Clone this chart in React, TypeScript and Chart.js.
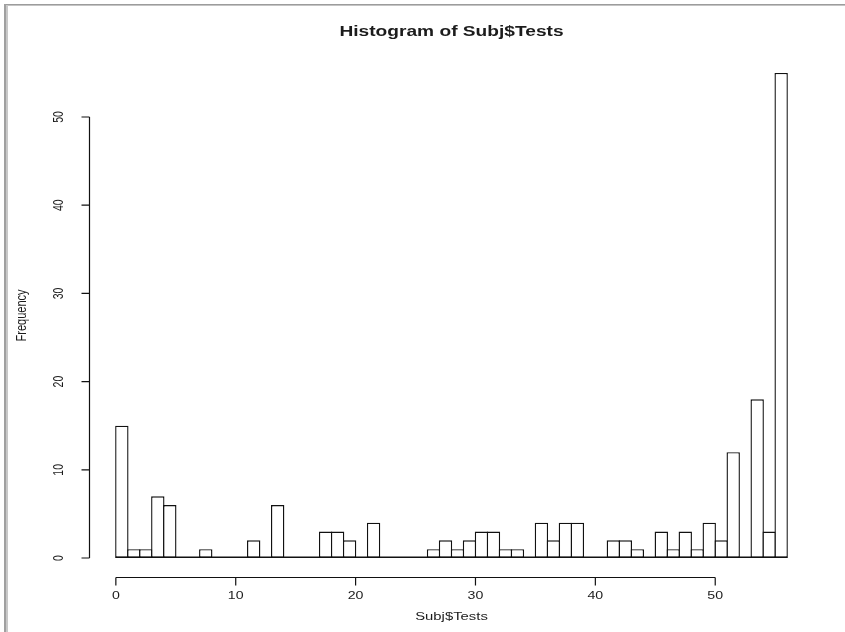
import React, { useEffect, useRef } from "react";
import { Chart, registerables } from "chart.js";

Chart.register(...registerables);

// Histogram bin edges (unit-width bins) and the count in each bin
const breaks = [
  0, 1, 2, 3, 4, 5, 6, 7, 8, 9, 10, 11, 12, 13, 14, 15, 16, 17, 18, 19, 20,
  21, 22, 23, 24, 25, 26, 27, 28, 29, 30, 31, 32, 33, 34, 35, 36, 37, 38, 39,
  40, 41, 42, 43, 44, 45, 46, 47, 48, 49, 50, 51, 52, 53, 54, 55, 56,
];
const counts = [
  15, 1, 1, 7, 6, 0, 0, 1, 0, 0, 0, 2, 0, 6, 0, 0, 0, 3, 3, 2, 0, 4, 0, 0, 0,
  0, 1, 2, 1, 2, 3, 3, 1, 1, 0, 4, 2, 4, 4, 0, 0, 2, 2, 1, 0, 3, 1, 3, 1, 4,
  2, 12, 0, 18, 3, 55,
];
const xTicks = [0, 10, 20, 30, 40, 50];
const yTicks = [0, 10, 20, 30, 40, 50];

const mainTitle = "Histogram of Subj$Tests";
const xLabel = "Subj$Tests";
const yLabel = "Frequency";

const W = 845;
const H = 632;
const FONT = '"Liberation Sans", Arial, sans-serif';
const TEXT_COLOR = "#1c1c1c";
const LINE_COLOR = "#111111";
const SX = 1.35; // horizontal widening of the lettering
const BAR_LINE = 1.4;

function drawText(
  ctx: CanvasRenderingContext2D,
  text: string,
  x: number,
  y: number,
  font: string,
  vertical = false
) {
  ctx.save();
  ctx.translate(x, y);
  ctx.scale(SX, 1);
  if (vertical) ctx.rotate(-Math.PI / 2);
  ctx.font = font;
  ctx.fillStyle = TEXT_COLOR;
  ctx.textAlign = "center";
  ctx.textBaseline = "middle";
  ctx.fillText(text, 0, 0);
  ctx.restore();
}

const frameAndAxes = {
  id: "frameAndAxes",
  beforeDraw(chart: any) {
    const { ctx, width, height } = chart;
    ctx.save();
    ctx.fillStyle = "#ffffff";
    ctx.fillRect(0, 0, width, height);
    // window frame along the top and left edges
    ctx.fillStyle = "#9c9c9c";
    ctx.fillRect(4, 4, width - 4, 1);
    ctx.fillStyle = "#c4c4c4";
    ctx.fillRect(5, 5, width - 5, 1);
    ctx.fillStyle = "#a0a0a0";
    ctx.fillRect(4, 4, 2, height - 4);
    ctx.fillStyle = "#c8c8c8";
    ctx.fillRect(6, 5, 2, height - 5);
    ctx.restore();
  },
  afterDatasetsDraw(chart: any) {
    const { ctx, chartArea } = chart;
    const xs = chart.scales.x;
    const ys = chart.scales.y;
    ctx.save();
    ctx.strokeStyle = LINE_COLOR;
    ctx.lineWidth = BAR_LINE;

    // baseline under every bin, including the empty ones
    const base = ys.getPixelForValue(0) - BAR_LINE / 2;
    ctx.beginPath();
    ctx.moveTo(xs.getPixelForValue(breaks[0]), base);
    ctx.lineTo(xs.getPixelForValue(breaks[breaks.length - 1]), base);
    ctx.stroke();

    ctx.lineWidth = 1.2;
    const tick = 8;

    // x axis
    const ay = Math.round(chartArea.bottom) + 0.5;
    ctx.beginPath();
    ctx.moveTo(xs.getPixelForValue(xTicks[0]), ay);
    ctx.lineTo(xs.getPixelForValue(xTicks[xTicks.length - 1]), ay);
    for (const t of xTicks) {
      const px = xs.getPixelForValue(t);
      ctx.moveTo(px, ay);
      ctx.lineTo(px, ay + tick);
    }
    ctx.stroke();

    // y axis
    const ax = Math.round(chartArea.left) + 0.5;
    ctx.beginPath();
    ctx.moveTo(ax, ys.getPixelForValue(yTicks[0]));
    ctx.lineTo(ax, ys.getPixelForValue(yTicks[yTicks.length - 1]));
    for (const t of yTicks) {
      const py = ys.getPixelForValue(t);
      ctx.moveTo(ax, py);
      ctx.lineTo(ax - tick, py);
    }
    ctx.stroke();
    ctx.restore();

    const tickFont = `10.5px ${FONT}`;
    for (const t of xTicks) {
      drawText(ctx, String(t), xs.getPixelForValue(t), ay + 19, tickFont);
    }
    for (const t of yTicks) {
      drawText(ctx, String(t), ax - 30, ys.getPixelForValue(t), tickFont, true);
    }

    const cx = (chartArea.left + chartArea.right) / 2;
    const cy = (chartArea.top + chartArea.bottom) / 2;
    drawText(ctx, mainTitle, cx, 32, `bold 14.2px ${FONT}`);
    drawText(ctx, xLabel, cx, ay + 39, `11px ${FONT}`);
    drawText(ctx, yLabel, 22, cy, `11px ${FONT}`, true);
  },
};

export default function App() {
  const canvasRef = useRef<HTMLCanvasElement | null>(null);

  useEffect(() => {
    const canvas = canvasRef.current;
    if (!canvas) return;
    const points = counts.map((c, i) => ({
      x: (breaks[i] + breaks[i + 1]) / 2,
      y: c,
    }));
    const chart = new Chart(canvas, {
      type: "bar",
      data: {
        datasets: [
          {
            data: points,
            backgroundColor: "#ffffff",
            borderColor: LINE_COLOR,
            borderWidth: BAR_LINE,
            borderSkipped: false,
            barPercentage: 1 + BAR_LINE / 12,
            categoryPercentage: 1,
          },
        ],
      },
      options: {
        responsive: false,
        animation: false,
        devicePixelRatio: 1,
        layout: { padding: { left: 89, right: 31, top: 53.5, bottom: 54.6 } },
        plugins: {
          legend: { display: false },
          tooltip: { enabled: false },
          title: { display: false },
        },
        scales: {
          x: {
            type: "linear",
            min: -2.24,
            max: 58.24,
            offset: false,
            display: false,
          },
          y: { type: "linear", min: -2.2, max: 57.2, display: false },
        },
      },
      plugins: [frameAndAxes],
    });
    return () => chart.destroy();
  }, []);

  return (
    <div style={{ position: "absolute", left: 0, top: 0, width: W, height: H }}>
      <canvas ref={canvasRef} width={W} height={H} style={{ display: "block" }} />
    </div>
  );
}
